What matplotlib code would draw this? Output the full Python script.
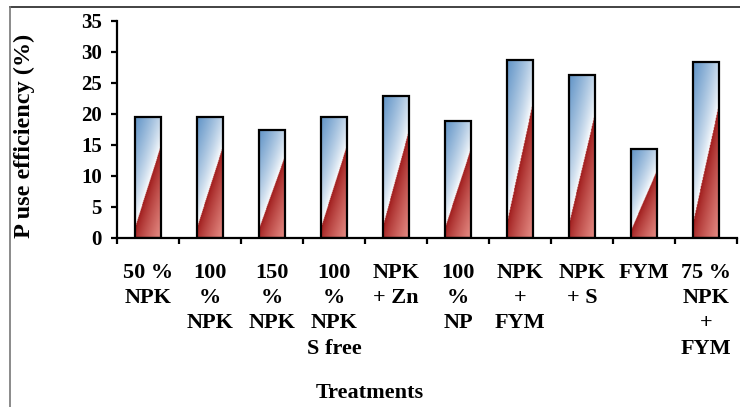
import numpy as np
import matplotlib
matplotlib.use("Agg")
import matplotlib.pyplot as plt
from matplotlib.lines import Line2D
from matplotlib.patches import Rectangle

# ── Data ──────────────────────────────────────────────────────────────────────

treatments = [
    "50 %\nNPK", "100\n%\nNPK", "150\n%\nNPK", "100\n%\nNPK\nS free",
    "NPK\n+ Zn", "100\n%\nNP", "NPK\n+\nFYM", "NPK\n+ S", "FYM",
    "75 %\nNPK\n+\nFYM",
]
p_use_eff = [19.5, 19.4, 17.3, 19.5, 22.8, 18.9, 28.7, 26.3, 14.3, 28.3]
y_ticks = [0, 5, 10, 15, 20, 25, 30, 35]

# ── Style ─────────────────────────────────────────────────────────────────────

plt.rcParams["font.family"] = ["Liberation Serif", "DejaVu Serif"]
plt.rcParams["font.weight"] = "bold"

W, H = 740, 407
BAR_W = 0.41
BLUE = np.array([0.38, 0.58, 0.78])
WHITE = np.array([1.0, 1.0, 1.0])
RED_DARK = np.array([0.62, 0.10, 0.10])
RED_LIGHT = np.array([0.90, 0.55, 0.52])


def bar_gradient(w_px, h_px, lo=0.09, hi=0.75, nx=40, ny=240):
    """Two-tone fill: blue->white above a diagonal, dark->light red below it."""
    u = np.linspace(0, w_px, nx)
    v = np.linspace(0, h_px, ny)
    uu, vv = np.meshgrid(u, v)
    rise = (hi - lo) * h_px
    norm = np.hypot(w_px, rise)
    d = ((vv - lo * h_px) * w_px - uu * rise) / norm
    d_top = ((h_px - lo * h_px) * w_px) / norm
    d_bot = ((0 - lo * h_px) * w_px - w_px * rise) / norm
    img = np.ones((ny, nx, 3))
    above = d >= 0
    t = np.clip(d / d_top, 0, 1) ** 0.75
    img[above] = WHITE + (BLUE - WHITE) * t[above][:, None]
    s = np.clip(d / d_bot, 0, 1) ** 0.8
    img[~above] = RED_DARK + (RED_LIGHT - RED_DARK) * s[~above][:, None]
    return img


fig = plt.figure(figsize=(W / 100, H / 100), dpi=100)
ax = fig.add_axes([117 / W, 1 - 238 / H, 620 / W, 217.5 / H])

x = np.arange(len(treatments))
px_per_x = 620 / len(treatments)
px_per_y = 217.5 / 35

for xi, val in zip(x, p_use_eff):
    x0, x1 = xi - BAR_W / 2, xi + BAR_W / 2
    img = bar_gradient(BAR_W * px_per_x, val * px_per_y)
    ax.imshow(img, extent=[x0, x1, 0, val], origin="lower", aspect="auto",
              interpolation="bilinear", zorder=2)
    ax.add_patch(Rectangle((x0, 0), BAR_W, val, fill=False,
                           edgecolor="black", linewidth=1.6, zorder=3))

ax.set_xlim(-0.5, len(treatments) - 0.5)
ax.set_ylim(0, 35)

# axes: left and bottom spines only
for side in ("top", "right"):
    ax.spines[side].set_visible(False)
for side in ("left", "bottom"):
    ax.spines[side].set_linewidth(1.6)
    ax.spines[side].set_zorder(4)

ax.set_yticks(y_ticks)
ax.set_yticklabels([str(t) for t in y_ticks], fontsize=15, fontweight="bold")
ax.tick_params(axis="y", direction="out", length=4, width=1.6, pad=7)

ax.set_xticks(x)
ax.set_xticklabels(treatments, fontsize=16, fontweight="bold",
                   linespacing=1.35, va="top")
ax.set_xticks(np.arange(len(treatments) + 1) - 0.5, minor=True)
ax.tick_params(axis="x", which="major", length=0, pad=18)
ax.tick_params(axis="x", which="minor", direction="out", length=4, width=1.6)

ax.set_ylabel("P use efficiency (%)", fontsize=17.5, fontweight="bold")
ax.yaxis.set_label_coords(-0.132, 0.47)
ax.set_xlabel("Treatments", fontsize=16, fontweight="bold")
ax.xaxis.label.set_va("center")
ax.xaxis.set_label_coords(0.408, -0.711)

# frame around the figure (top and left edges)
fig.add_artist(Line2D([10 / W, 1], [1 - 7 / H, 1 - 7 / H], color="#222222",
                      linewidth=1.2, transform=fig.transFigure))
fig.add_artist(Line2D([10 / W, 10 / W], [0, 1 - 7 / H], color="#777777",
                      linewidth=1.2, transform=fig.transFigure))

fig.savefig("out.png", dpi=100)
